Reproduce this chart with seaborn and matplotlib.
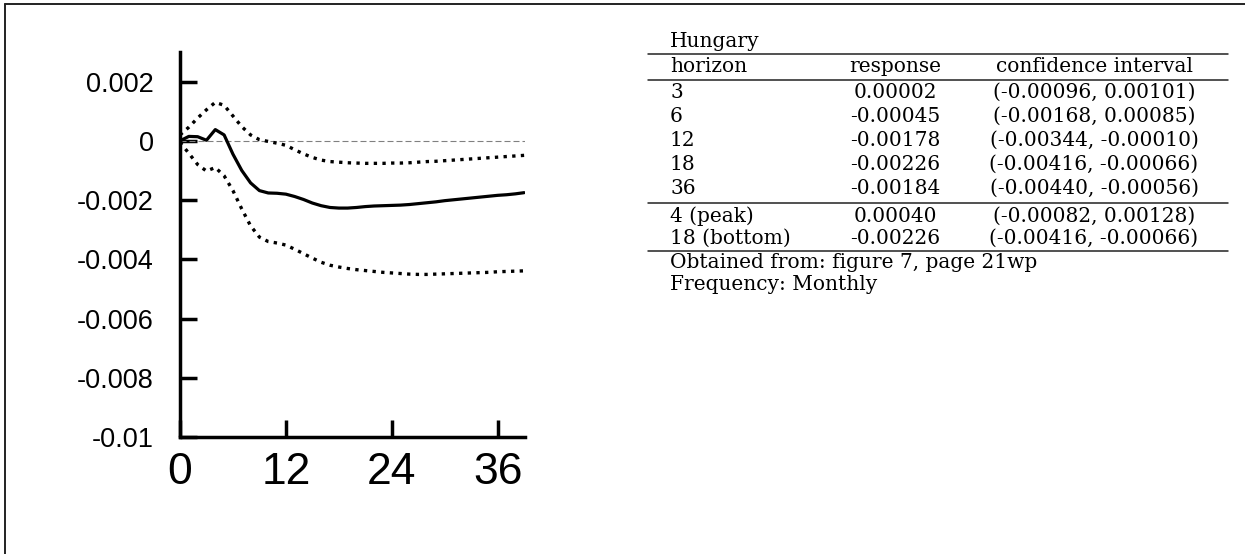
import seaborn as sns
import matplotlib.pyplot as plt
from matplotlib.lines import Line2D

sns.set_theme(style="white")

# Impulse response, Hungary (monthly horizons)
horizon = list(range(40))
response = [0.00000, 0.00015, 0.00014, 0.00002, 0.00038, 0.00020, -0.00045, -0.00100,
            -0.00142, -0.00168, -0.00176, -0.00177, -0.00180, -0.00188, -0.00198, -0.00210,
            -0.00219, -0.00225, -0.00227, -0.00227, -0.00225, -0.00222, -0.00220, -0.00219,
            -0.00218, -0.00217, -0.00215, -0.00212, -0.00209, -0.00206, -0.00202, -0.00199,
            -0.00196, -0.00193, -0.00190, -0.00187, -0.00184, -0.00182, -0.00179, -0.00175]
upper = [0.00020, 0.00046, 0.00077, 0.00105, 0.00130, 0.00120, 0.00084, 0.00048,
         0.00020, 0.00004, -0.00002, -0.00008, -0.00015, -0.00030, -0.00044, -0.00056,
         -0.00065, -0.00070, -0.00072, -0.00074, -0.00075, -0.00076, -0.00076, -0.00076,
         -0.00075, -0.00075, -0.00074, -0.00072, -0.00070, -0.00069, -0.00067, -0.00065,
         -0.00063, -0.00061, -0.00059, -0.00057, -0.00055, -0.00053, -0.00051, -0.00049]
lower = [-0.00005, -0.00042, -0.00080, -0.00102, -0.00090, -0.00118, -0.00168, -0.00230,
         -0.00287, -0.00325, -0.00340, -0.00345, -0.00352, -0.00366, -0.00381, -0.00396,
         -0.00410, -0.00420, -0.00426, -0.00431, -0.00435, -0.00438, -0.00441, -0.00444,
         -0.00446, -0.00448, -0.00450, -0.00451, -0.00451, -0.00450, -0.00449, -0.00448,
         -0.00447, -0.00446, -0.00445, -0.00444, -0.00442, -0.00441, -0.00440, -0.00439]

x_ticks = [0, 12, 24, 36]
y_ticks = [-0.01, -0.008, -0.006, -0.004, -0.002, 0, 0.002]
y_tick_labels = ["-0.01", "-0.008", "-0.006", "-0.004", "-0.002", "0", "0.002"]

# Summary table
table_title = "Hungary"
table_header = ["horizon", "response", "confidence interval"]
table_horizons = ["3", "6", "12", "18", "36"]
table_responses = ["0.00002", "-0.00045", "-0.00178", "-0.00226", "-0.00184"]
table_intervals = ["(-0.00096, 0.00101)", "(-0.00168, 0.00085)", "(-0.00344, -0.00010)",
                   "(-0.00416, -0.00066)", "(-0.00440, -0.00056)"]
extreme_horizons = ["4 (peak)", "18 (bottom)"]
extreme_responses = ["0.00040", "-0.00226"]
extreme_intervals = ["(-0.00082, 0.00128)", "(-0.00416, -0.00066)"]
notes = ["Obtained from: figure 7, page 21wp", "Frequency: Monthly"]

W, H = 1245, 554
fig = plt.figure(figsize = (W / 100, H / 100), dpi = 100)
ax = fig.add_axes([180 / W, 1 - 437 / H, 345 / W, 385 / H])

# Zero reference line and the three curves
ax.axhline(0, color = "#808080", lw = 0.8, ls = (0, (5.4, 2.7)), zorder = 1)
sns.lineplot(x = horizon, y = response, ax = ax, color = "black", lw = 2.3, zorder = 3)
for band in (upper, lower):
    sns.lineplot(x = horizon, y = band, ax = ax, color = "black", lw = 2.4,
                 ls = (0, (1, 1.6)), dash_capstyle = "butt", zorder = 3)

ax.set_xlim(0, 39.1)
ax.set_ylim(-0.01, 0.003)
ax.set_xticks(x_ticks)
ax.set_xticklabels([str(t) for t in x_ticks], fontsize = 32, family = "Liberation Sans")
ax.set_yticks(y_ticks)
ax.set_yticklabels(y_tick_labels, fontsize = 19.5, family = "Liberation Sans")
ax.tick_params(direction = "in", length = 12, width = 2.5, color = "black",
               labelcolor = "black", bottom = True, left = True)
ax.tick_params(axis = "y", pad = 19)
ax.tick_params(axis = "x", pad = 11)
for side in ("top", "right"):
    ax.spines[side].set_visible(False)
for side in ("left", "bottom"):
    ax.spines[side].set_linewidth(2.5)
    ax.spines[side].set_color("black")

# Table on the right, placed in pixel coordinates
def fx(px):
    return px / W

def fy(py):
    return 1 - py / H

serif = dict(family = "DejaVu Serif", fontsize = 14.5, color = "black", va = "baseline")
col_left, col_resp, col_ci = 670, 895, 1094

fig.text(fx(col_left), fy(47), table_title, ha = "left", **serif)
fig.text(fx(col_left), fy(72), table_header[0], ha = "left", **serif)
fig.text(fx(col_resp), fy(72), table_header[1], ha = "center", **serif)
fig.text(fx(col_ci), fy(72), table_header[2], ha = "center", **serif)

for i, (h, r, ci) in enumerate(zip(table_horizons, table_responses, table_intervals)):
    base = 98 + 24 * i
    fig.text(fx(col_left), fy(base), h, ha = "left", **serif)
    fig.text(fx(col_resp), fy(base), r, ha = "center", **serif)
    fig.text(fx(col_ci), fy(base), ci, ha = "center", **serif)

for i, (h, r, ci) in enumerate(zip(extreme_horizons, extreme_responses, extreme_intervals)):
    base = 222 + 22 * i
    fig.text(fx(col_left), fy(base), h, ha = "left", **serif)
    fig.text(fx(col_resp), fy(base), r, ha = "center", **serif)
    fig.text(fx(col_ci), fy(base), ci, ha = "center", **serif)

for i, note in enumerate(notes):
    fig.text(fx(col_left), fy(268 + 22 * i), note, ha = "left", **serif)

for py in (54, 80, 203, 251):
    fig.add_artist(Line2D([fx(648), fx(1228)], [fy(py), fy(py)], color = "#222222", lw = 1.1))

# Frame around the figure (top and left edges visible)
fig.add_artist(Line2D([fx(5), fx(W)], [fy(4), fy(4)], color = "#222222", lw = 1.4))
fig.add_artist(Line2D([fx(5), fx(5)], [fy(4), fy(H)], color = "#222222", lw = 1.4))

fig.savefig("out.png", dpi = 100)
